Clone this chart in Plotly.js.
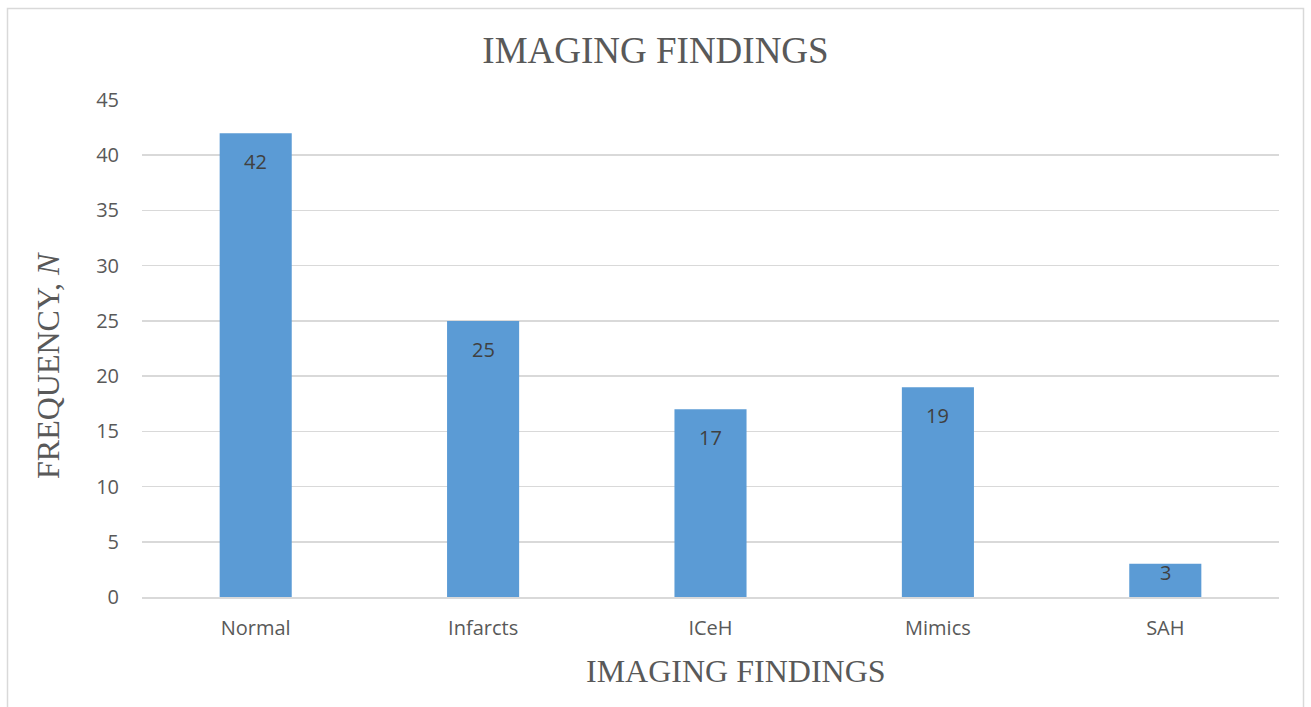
<!DOCTYPE html>
<html>
<head>
<meta charset="utf-8">
<script src="https://cdn.plot.ly/plotly-3.0.1.min.js"></script>
<style>
  html, body { margin: 0; padding: 0; background: #fff; }
  #chart { width: 1311px; height: 707px; }
</style>
</head>
<body>
<div id="chart"></div>
<script>
// Imaging findings and their frequencies
const categories = ["Normal", "Infarcts", "ICeH", "Mimics", "SAH"];
const frequencies = [42, 25, 17, 19, 3];
const yTickValues = [0, 5, 10, 15, 20, 25, 30, 35, 40, 45];

const W = 1311, H = 707;
const margin = { l: 142, r: 32, t: 100, b: 110 };
const plotW = W - margin.l - margin.r;
const plotH = H - margin.t - margin.b;
const yMax = 45;
// convert pixel positions to paper coordinates
const px = x => (x - margin.l) / plotW;
const py = y => (H - margin.b - y) / plotH;

const sans = "'Open Sans', Lato, sans-serif";
const serif = "'Liberation Serif', 'Times New Roman', serif";
const textGrey = "#595959";

const trace = {
  type: "bar",
  x: categories,
  y: frequencies,
  marker: { color: "#5B9BD5" },
  hoverinfo: "x+y"
};

// value labels sit just inside the top of each bar; very short bars keep the label at their top edge
const valueLabels = categories.map((c, i) => {
  const barPx = frequencies[i] / yMax * plotH;
  return {
    x: c,
    y: frequencies[i],
    xref: "x",
    yref: "y",
    text: String(frequencies[i]),
    showarrow: false,
    yanchor: "top",
    yshift: barPx > 40 ? -13 : 7,
    font: { family: sans, size: 20, color: "#404040" }
  };
});

// axis titles placed as free text
const axisTitles = [
  {
    text: "IMAGING FINDINGS",
    xref: "paper", yref: "paper",
    x: px(735.5), y: py(671),
    xanchor: "center", yanchor: "middle",
    showarrow: false,
    font: { family: serif, size: 32, color: textGrey }
  },
  {
    text: "FREQUENCY, <i>N</i>",
    xref: "paper", yref: "paper",
    x: px(48), y: py(366),
    xanchor: "center", yanchor: "middle",
    textangle: -90,
    showarrow: false,
    font: { family: serif, size: 32, color: textGrey }
  }
];

const layout = {
  width: W,
  height: H,
  margin: margin,
  paper_bgcolor: "#ffffff",
  plot_bgcolor: "#ffffff",
  bargap: 0.683,
  showlegend: false,
  title: {
    text: "IMAGING FINDINGS",
    font: { family: serif, size: 37, color: textGrey },
    x: 0.5,
    xanchor: "center",
    y: 1 - 50 / H,
    yanchor: "middle"
  },
  xaxis: {
    type: "category",
    showgrid: false,
    showline: true,
    linecolor: "#d9d9d9",
    linewidth: 1.5,
    ticks: "",
    tickfont: { family: sans, size: 20, color: textGrey },
    ticklabelstandoff: 12,
    automargin: false
  },
  yaxis: {
    range: [0, yMax],
    tickvals: yTickValues,
    ticktext: yTickValues.map(String),
    showgrid: true,
    gridcolor: "#d9d9d9",
    gridwidth: 1.5,
    zeroline: false,
    showline: false,
    ticks: "",
    tickfont: { family: sans, size: 20, color: textGrey },
    ticklabelstandoff: 22,
    automargin: false
  },
  annotations: valueLabels.concat(axisTitles),
  shapes: [{
    type: "rect",
    xref: "paper",
    yref: "paper",
    x0: px(7.5), x1: px(1303.5),
    y0: py(720), y1: py(8.5),
    line: { color: "#d9d9d9", width: 1.5 },
    fillcolor: "rgba(0,0,0,0)",
    layer: "below"
  }]
};

Plotly.newPlot("chart", [trace], layout, { displayModeBar: false, staticPlot: true });
</script>
</body>
</html>
